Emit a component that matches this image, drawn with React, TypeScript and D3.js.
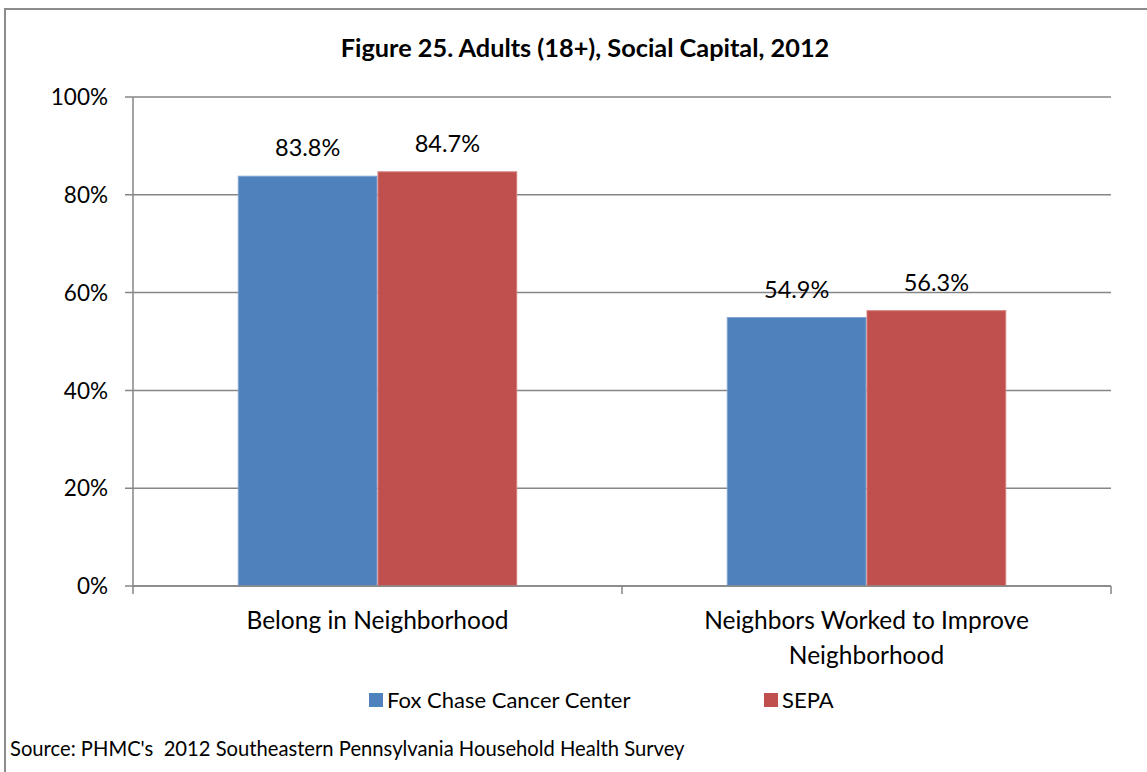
import * as d3 from 'd3';

const categories = ['Belong in Neighborhood', 'Neighbors Worked to Improve\nNeighborhood'];
const seriesNames = ['Fox Chase Cancer Center', 'SEPA'];
const foxChase = [83.8, 54.9];
const sepa = [84.7, 56.3];
const yTicks = [0, 20, 40, 60, 80, 100];

const colors = ['#4F81BD', '#C0504D'];
const edges = ['#7FA3D0', '#D47E7C'];
const font = 'Lato, Carlito, Calibri, sans-serif';

const App = () => {
  const width = 1147;
  const height = 772;
  const plot = { left: 133, right: 1111, top: 97, bottom: 586 };

  const x0 = d3.scaleBand().domain(categories).range([plot.left, plot.right]);
  const x1 = d3
    .scaleBand()
    .domain(seriesNames)
    .range([0, x0.bandwidth()])
    .paddingInner(0)
    .paddingOuter(0.75);
  const y = d3.scaleLinear().domain([0, 100]).range([plot.bottom, plot.top]);

  const values = [foxChase, sepa];
  const fmt = (v: number) => `${v.toFixed(1)}%`;

  return (
    <svg
      width={width}
      height={height}
      style={{ position: 'absolute', left: 0, top: 0, display: 'block', background: '#fff' }}
      fontFamily={font}
    >
      {/* outer frame, open on the right and bottom like the crop */}
      <path d={`M5,${height + 5}V9H${width + 5}`} fill="none" stroke="#8c8c8c" strokeWidth={2} />

      <text x={585} y={57} textAnchor="middle" fontSize={25.3} fontWeight="bold" fill="#000">
        Figure 25. Adults (18+), Social Capital, 2012
      </text>

      {/* gridlines + y labels */}
      {yTicks.map((t) => (
        <g key={t}>
          <line x1={plot.left - 8} x2={plot.right} y1={y(t)} y2={y(t)} stroke="#868686" strokeWidth={1.5} />
          <text x={108} y={y(t)} dy="0.36em" textAnchor="end" fontSize={22.5} fill="#000">
            {t}%
          </text>
        </g>
      ))}

      {/* bars */}
      {categories.map((c, ci) => (
        <g key={c} transform={`translate(${x0(c)},0)`}>
          {seriesNames.map((s, si) => {
            const v = values[si][ci];
            const bx = x1(s)!;
            return (
              <g key={s}>
                <rect
                  x={bx + 0.5}
                  y={y(v)}
                  width={x1.bandwidth() - 1}
                  height={plot.bottom - y(v)}
                  fill={colors[si]}
                  stroke={edges[si]}
                  strokeWidth={1}
                />
                <text
                  x={bx + x1.bandwidth() / 2}
                  y={y(v) - 20}
                  textAnchor="middle"
                  fontSize={23.5}
                  fill="#000"
                >
                  {fmt(v)}
                </text>
              </g>
            );
          })}
        </g>
      ))}

      {/* y axis */}
      <line x1={plot.left} x2={plot.left} y1={plot.top} y2={plot.bottom} stroke="#868686" strokeWidth={1.5} />
      {/* x axis */}
      <line x1={plot.left} x2={plot.right} y1={plot.bottom} y2={plot.bottom} stroke="#868686" strokeWidth={1.5} />
      {[plot.left, ...categories.map((c) => x0(c)! + x0.bandwidth())].map((tx, i) => (
        <line key={i} x1={tx} x2={tx} y1={plot.bottom} y2={plot.bottom + 8} stroke="#868686" strokeWidth={1.5} />
      ))}

      {/* category labels */}
      {categories.map((c) => (
        <text key={c} textAnchor="middle" fontSize={24.5} fill="#000">
          {c.split('\n').map((line, li) => (
            <tspan key={li} x={x0(c)! + x0.bandwidth() / 2} y={629 + li * 35}>
              {line}
            </tspan>
          ))}
        </text>
      ))}

      {/* legend */}
      {seriesNames.map((s, i) => {
        const lx = [369, 764][i];
        return (
          <g key={s}>
            <rect x={lx} y={693} width={14} height={14} fill={colors[i]} />
            <text x={lx + 18} y={708} fontSize={22} fill="#000">
              {s}
            </text>
          </g>
        );
      })}

      <text x={10} y={756} fontSize={20.2} fill="#000" style={{ whiteSpace: 'pre' }}>
        {"Source: PHMC's  2012 Southeastern Pennsylvania Household Health Survey"}
      </text>
    </svg>
  );
};

export default App;
